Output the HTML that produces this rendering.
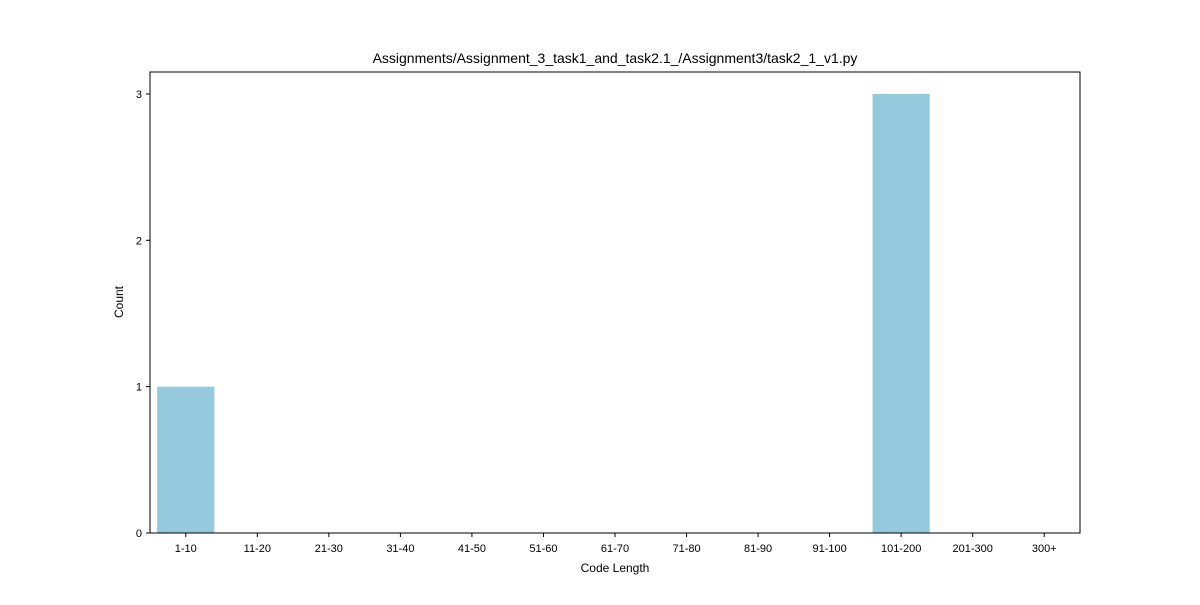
<!DOCTYPE html>
<html><head><meta charset="utf-8"><style>
body{margin:0;background:#fff;}
svg text{font-family:"Liberation Sans","DejaVu Sans",sans-serif;fill:#000;}
</style></head><body>
<svg width="1200" height="600" xmlns="http://www.w3.org/2000/svg">
<rect x="0" y="0" width="1200" height="600" fill="#fff"/>
<text x="615" y="63" font-size="14" text-anchor="middle">Assignments/Assignment_3_task1_and_task2.1_/Assignment3/task2_1_v1.py</text>
<g id="bars"></g>
<g id="xticks"></g>
<g id="yticks"></g>
<rect x="150" y="72" width="930" height="461" fill="none" stroke="#000" stroke-width="1"/>
<text x="615" y="572" font-size="12" text-anchor="middle">Code Length</text>
<text x="123" y="302" font-size="12" text-anchor="middle" transform="rotate(-90 123 302)">Count</text>
</svg>
<script>
const categories=["1-10","11-20","21-30","31-40","41-50","51-60","61-70","71-80","81-90","91-100","101-200","201-300","300+"];
const counts=[1,0,0,0,0,0,0,0,0,0,3,0,0];
const yTicks=[0,1,2,3];
const L=150,R=1080,T=72,B=533,yMax=3.15;
const ns="http://www.w3.org/2000/svg";
const step=(R-L)/categories.length;
const xC=i=>L+step*(i+0.5);
const yS=v=>B-(v/yMax)*(B-T);
const bars=document.getElementById('bars'),xt=document.getElementById('xticks'),yt=document.getElementById('yticks');
categories.forEach((c,i)=>{
 const r=document.createElementNS(ns,'rect');
 
 
 r.setAttribute('x',xC(i)-step*0.4);r.setAttribute('width',step*0.8);
 r.setAttribute('y',yS(counts[i]));r.setAttribute('height',B-yS(counts[i]));
 r.setAttribute('fill','#95cade');bars.appendChild(r);
 const l=document.createElementNS(ns,'line');
 
 
 l.setAttribute('x1',xC(i));l.setAttribute('x2',xC(i));l.setAttribute('y1',B);l.setAttribute('y2',B+4);l.setAttribute('stroke','#000');xt.appendChild(l);
 const t=document.createElementNS(ns,'text');
 
 
 t.setAttribute('x',xC(i));t.setAttribute('y',B+19);t.setAttribute('font-size','11');t.setAttribute('text-anchor','middle');t.textContent=c;xt.appendChild(t);
});
yTicks.forEach(v=>{
 const l=document.createElementNS(ns,'line');
 
 
 l.setAttribute('x1',L-4);l.setAttribute('x2',L);l.setAttribute('y1',yS(v));l.setAttribute('y2',yS(v));l.setAttribute('stroke','#000');yt.appendChild(l);
 const t=document.createElementNS(ns,'text');
 
 
 t.setAttribute('x',L-8);t.setAttribute('y',yS(v)+4);t.setAttribute('font-size','11');t.setAttribute('text-anchor','end');t.textContent=v;yt.appendChild(t);
});
</script>
</body></html>
